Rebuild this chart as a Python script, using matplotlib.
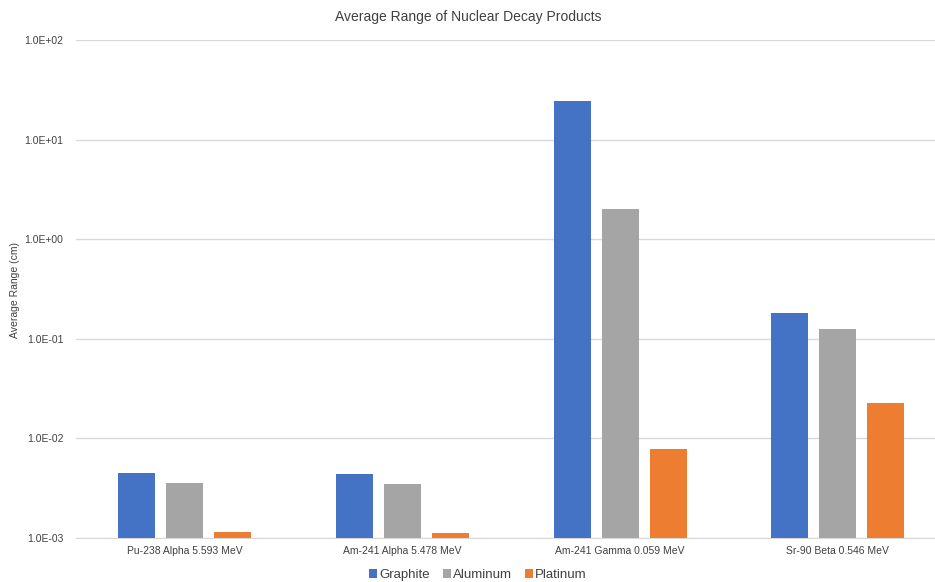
import numpy as np
import matplotlib.pyplot as plt
from matplotlib.ticker import FixedLocator, FuncFormatter

plt.rcParams['font.family'] = ['Liberation Sans', 'DejaVu Sans']

# decay sources and the average range (cm) in each absorber
sources = ['Pu-238 Alpha 5.593 MeV', 'Am-241 Alpha 5.478 MeV',
           'Am-241 Gamma 0.059 MeV', 'Sr-90 Beta 0.546 MeV']
graphite = [0.00449, 0.00435, 24.6, 0.181]
aluminum = [0.00359, 0.00351, 2.01, 0.125]
platinum = [0.00116, 0.00111, 0.00782, 0.0226]

materials = ['Graphite', 'Aluminum', 'Platinum']
colors = ['#4472C4', '#A5A5A5', '#ED7D31']

fig = plt.figure(figsize=(9.35, 5.82), dpi=100)
ax = fig.add_axes([76 / 935, 1 - 538 / 582, (946.7 - 76) / 935, (538 - 40) / 582])

x = np.arange(len(sources))
width = 0.17
step = 0.22
for i, (vals, col) in enumerate(zip([graphite, aluminum, platinum], colors)):
    ax.bar(x + (i - 1) * step, vals, width, color=col, label=materials[i], zorder=3)

ax.set_yscale('log')
ax.set_ylim(1e-3, 1e2)
ax.set_xlim(-0.5, len(sources) - 0.5)
ax.yaxis.set_major_locator(FixedLocator([1e-3, 1e-2, 1e-1, 1e0, 1e1, 1e2]))
ax.yaxis.set_minor_locator(FixedLocator([]))
ax.yaxis.set_major_formatter(FuncFormatter(lambda v, p: f'{v:.1E}'))
ax.grid(axis='y', color='#D9D9D9', linewidth=1, zorder=0)
ax.tick_params(axis='both', length=0, labelsize=7.5, colors='#404040')
ax.tick_params(axis='y', pad=9)
ax.tick_params(axis='x', pad=6)
ax.set_xticks(x)
ax.set_xticklabels(sources)
for s in ['top', 'right', 'left']:
    ax.spines[s].set_visible(False)
ax.spines['bottom'].set_color('#D9D9D9')

fig.text(15 / 935, 1 - 290 / 582, 'Average Range (cm)', rotation=90,
         ha='center', va='center', fontsize=7.5, color='#404040')
fig.text(468 / 935, 1 - 17 / 582, 'Average Range of Nuclear Decay Products',
         ha='center', va='center', fontsize=10, color='#404040')

handles, labels = ax.get_legend_handles_labels()
fig.legend(handles, labels, loc='center', bbox_to_anchor=(478 / 935, 1 - 575 / 582),
           ncol=3, frameon=False, fontsize=9.5, handlelength=0.6, handleheight=0.6,
           handletextpad=0.15, columnspacing=1.0, labelcolor='#404040')

fig.savefig('out.png', dpi=100)
